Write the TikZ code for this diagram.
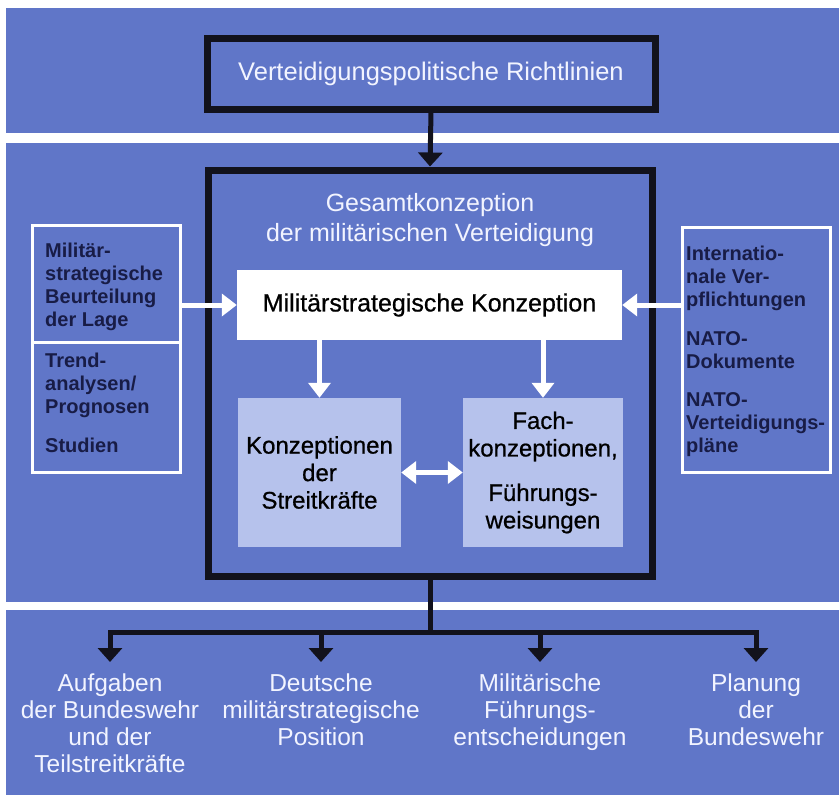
\documentclass[tikz,border=0pt]{standalone}
\usepackage{fontspec}
\setmainfont{Liberation Sans}
\newfontfamily\mediumsans[FakeBold=0.7]{Liberation Sans}
\usetikzlibrary{arrows.meta}
\definecolor{band}{RGB}{96,118,200}
\definecolor{pale}{RGB}{182,194,236}
\definecolor{navy}{RGB}{24,28,70}
\definecolor{ink}{RGB}{18,18,28}
\definecolor{snow}{RGB}{242,244,255}
\begin{document}
\begin{tikzpicture}[x=1pt,y=-1pt,
  frame/.style={draw=ink, line width=7pt, inner sep=0pt},
  sourcebox/.style={draw=white, line width=3pt, inner sep=0pt},
  sourcetext/.style={anchor=north west, align=left, text=navy, inner sep=0pt,
    font=\bfseries\fontsize{20}{23}\selectfont},
  palebox/.style={fill=pale, inner sep=0pt, align=center, text=black,
    font=\mediumsans\fontsize{24}{27.5}\selectfont},
  outtext/.style={anchor=north, align=center, text=snow, inner sep=0pt,
    font=\fontsize{24.5}{26.7}\selectfont},
  darrow/.style={draw=ink, line width=5pt, -{Triangle[width=24pt,length=14pt]}},
  warrow/.style={draw=white, line width=5pt, -{Triangle[width=22pt,length=15pt]}},
  wdouble/.style={draw=white, line width=5pt,
    {Triangle[width=22pt,length=15pt]}-{Triangle[width=22pt,length=15pt]}},
]
\useasboundingbox (0,0) rectangle (839,795);
\fill[white] (0,0) rectangle (839,795);

% three blue bands separated by white gaps
\fill[band] (6,8) rectangle (839,133);
\fill[band] (6,143) rectangle (839,602);
\fill[band] (6,610) rectangle (839,795);

% guideline box at the top
\node[frame, minimum width=448pt, minimum height=71pt, text=snow,
      font=\fontsize{25.5}{30}\selectfont] (policy) at (431,73.5)
      {Verteidigungspolitische Richtlinien};

% overall concept frame
\node[frame, minimum width=444pt, minimum height=406pt] (overall) at (430,373) {};
\node[text=snow, align=center, font=\fontsize{25}{30}\selectfont]
      (overalltitle) at (430,220) {Gesamtkonzeption\\der militärischen Verteidigung};

\node[fill=white, minimum width=385pt, minimum height=70pt, inner sep=0pt,
      font=\mediumsans\fontsize{25}{30}\selectfont] (strategy) at (429.5,305)
      {Militärstrategische Konzeption};

\node[palebox, minimum width=163pt, minimum height=149pt] (forces) at (319.5,472.5)
      {Konzeptionen\\der\\Streitkräfte};
\node[palebox, minimum width=160pt, minimum height=149pt] (special) at (543,472.5)
      {Fach-\\konzeptionen,\\[17pt]Führungs-\\weisungen};

% input boxes on the left
\node[sourcebox, minimum width=148pt, minimum height=117pt] (assess) at (106,283.5) {};
\node[sourcebox, minimum width=148pt, minimum height=130pt] (trends) at (106,407) {};
\node[sourcetext] (assesstext) at (45,242.5)
      {Militär-\\strategische\\Beurteilung\\der Lage};
\node[sourcetext] (trendtext) at (45,352.5)
      {Trend-\\analysen/\\Prognosen\\[16pt]Studien};

% input box on the right
\node[sourcebox, minimum width=148pt, minimum height=245pt] (intl) at (756,349.5) {};
\node[sourcetext] (intltext) at (686,245.5)
      {Internatio-\\nale Ver-\\pflichtungen\\[16pt]NATO-\\Dokumente\\[15pt]NATO-\\Verteidigungs-\\pläne};

% connectors inside the concept
\draw[darrow] (policy.south) -- (overall.north);
\draw[warrow] (assess.east |- strategy.west) -- (strategy.west);
\draw[warrow] (intl.west |- strategy.east) -- (strategy.east);
\draw[warrow] (strategy.south -| forces.north) -- (forces.north);
\draw[warrow] (strategy.south -| special.north) -- (special.north);
\draw[wdouble] (forces.east) -- (special.west);

% results
\node[outtext] (tasks) at (110,674) {Aufgaben\\der Bundeswehr\\und der\\Teilstreitkräfte};
\node[outtext] (position) at (321,674) {Deutsche\\militärstrategische\\Position};
\node[outtext] (command) at (540,674) {Militärische\\Führungs-\\entscheidungen};
\node[outtext] (planning) at (756,674) {Planung\\der\\Bundeswehr};

\coordinate (hub) at (430,632);
\draw[ink, line width=5pt] (overall.south) -- (hub);
\draw[ink, line width=5pt, line cap=rect] (tasks.north |- hub) -- (planning.north |- hub);
\foreach \n in {tasks,position,command,planning}
  \draw[darrow, shorten >=12pt] (\n.north |- hub) -- (\n.north);
\end{tikzpicture}
\end{document}
